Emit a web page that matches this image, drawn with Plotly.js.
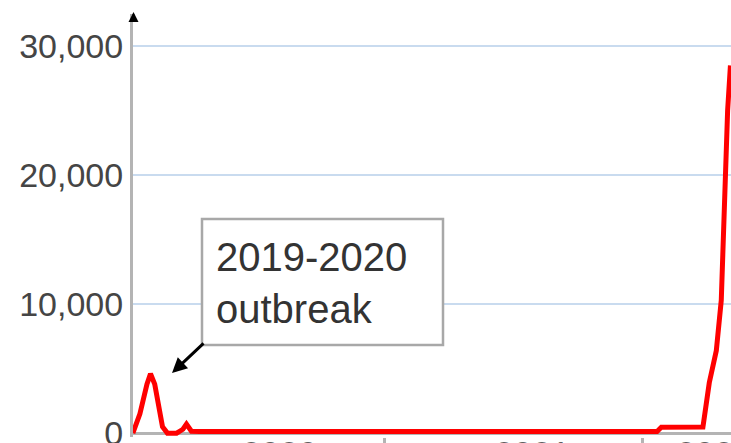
<!DOCTYPE html>
<html>
<head>
<meta charset="utf-8">
<script src="https://cdn.plot.ly/plotly-3.0.1.min.js"></script>
<style>
  html, body { margin: 0; padding: 0; background: #fff; overflow: hidden; }
  #chart { width: 731px; height: 443px; }
</style>
</head>
<body>
<div id="chart"></div>
<script>
// Reported cases
const dates = [
  '2020-01-10','2020-01-20','2020-01-30','2020-02-04','2020-02-10','2020-02-16',
  '2020-02-21','2020-02-28','2020-03-12','2020-03-21','2020-03-26','2020-04-02',
  '2020-04-14','2020-07-01','2020-10-01','2021-01-01','2021-04-01','2021-07-01',
  '2021-10-01','2022-01-22','2022-01-28','2022-03-28','2022-04-06','2022-04-16',
  '2022-04-23','2022-04-26','2022-04-29','2022-05-02','2022-05-06'
];
const cases = [
  0, 1500, 3800, 4600, 3800, 2000,
  500, 0, 0, 300, 700, 150,
  120, 120, 110, 110, 110, 120,
  120, 130, 450, 470, 3900, 6400,
  10300, 15500, 20600, 25000, 28500
];
const yTickVals = [0, 10000, 20000, 30000];
const yTickText = ['0', '10,000', '20,000', '30,000'];
const xLabelDates = ['2020-08-05', '2021-07-29', '2022-04-13'];
const xLabelText = ['2020', '2021', '2022'];
const xTickDates = ['2021-01-01', '2022-01-01'];
const noteText = '2019-2020<br>outbreak';

const W = 731, H = 443, L = 133, T = 14, B = 6;
const pw = W - L, ph = H - T - B;
const px = x => (x - L) / pw;
const py = y => (H - B - y) / ph;

const gray = '#b4b4b4';
const font = 'Liberation Sans, Arial, sans-serif';

Plotly.newPlot('chart', [{
  x: dates, y: cases, type: 'scatter', mode: 'lines',
  line: {color: '#ff0000', width: 5},
  hoverinfo: 'skip'
}], {
  width: W, height: H,
  margin: {l: L, r: 0, t: T, b: B, pad: 0},
  paper_bgcolor: '#fff', plot_bgcolor: '#fff',
  showlegend: false,
  xaxis: {
    type: 'date',
    range: ['2020-01-10 05:00', '2022-05-06 19:00'],
    tickmode: 'array', tickvals: xLabelDates, ticktext: xLabelText,
    ticks: '', showgrid: false, zeroline: false, showline: false,
    ticklabeloverflow: 'allow', ticklabelstandoff: -7,
    tickfont: {family: font, size: 34, color: '#606060'},
    minor: {tickmode: 'array', tickvals: xTickDates, ticks: 'outside', ticklen: 9, tickwidth: 3, tickcolor: gray, showgrid: false},
    fixedrange: true
  },
  yaxis: {
    range: [-300, 32490],
    tickmode: 'array', tickvals: yTickVals, ticktext: yTickText,
    ticks: '', showgrid: true, gridcolor: '#c9dbef', gridwidth: 2,
    zeroline: true, zerolinecolor: gray, zerolinewidth: 3,
    showline: true, linecolor: gray, linewidth: 3,
    ticklabeloverflow: 'allow',
    tickfont: {family: font, size: 34, color: '#454545'},
    fixedrange: true
  },
  shapes: [{
    type: 'rect', xref: 'paper', yref: 'paper', layer: 'above',
    x0: px(202), x1: px(443), y0: py(345), y1: py(219),
    line: {color: '#a8a8a8', width: 2.5}, fillcolor: '#ffffff'
  }],
  annotations: [
    {
      xref: 'paper', yref: 'paper', x: px(214), y: py(283),
      xanchor: 'left', yanchor: 'middle', align: 'left',
      text: noteText, showarrow: false,
      font: {family: font, size: 40, color: '#333333'}
    },
    {
      xref: 'paper', yref: 'paper', x: px(172), y: py(373),
      text: '', showarrow: true, ax: 33, ay: -31,
      arrowhead: 2, arrowsize: 1, arrowwidth: 3, arrowcolor: '#000000', standoff: 0
    },
    {
      xref: 'paper', yref: 'paper', x: px(133.5), y: py(12),
      text: '', showarrow: true, ax: 0, ay: 9,
      arrowhead: 2, arrowsize: 1, arrowwidth: 2, arrowcolor: '#000000', standoff: 0
    }
  ]
}, {displayModeBar: false, staticPlot: true});
</script>
</body>
</html>
